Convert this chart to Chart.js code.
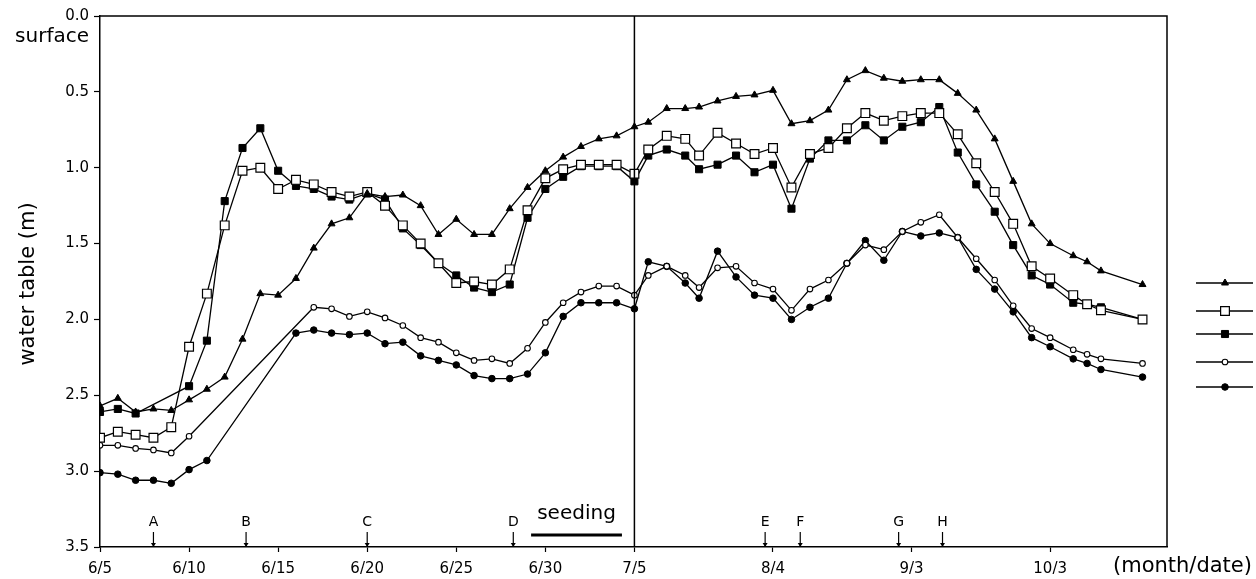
<!DOCTYPE html>
<html><head><meta charset="utf-8">
<script src="https://cdn.jsdelivr.net/npm/chart.js@4/dist/chart.umd.min.js"></script>
<style>html,body{margin:0;padding:0;background:#fff;}#wrap{width:1256px;height:579px;}</style>
</head><body><div id="wrap"><canvas id="c" width="1256" height="579"></canvas></div>
<script>
// days counted from 6/5 (day 0); 7/5 = day 30
const days = [0,1,2,3,4,5,6,7,8,9,10,11,12,13,14,15,16,17,18,19,20,21,22,23,24,25,26,27,28,29,30,
  33,37,41,44,48,52,56,60,64,68,72,76,80,84,88,92,96,100,104,108,112,116,120,125,128,131,140];

const triangleSeries = [2.57,2.52,2.61,2.59,2.60,2.53,2.46,2.38,2.13,1.83,1.84,1.73,1.53,1.37,1.33,1.17,1.19,1.18,1.25,1.44,1.34,1.44,1.44,1.27,1.13,1.02,0.93,0.86,0.81,0.79,0.73,
  0.70,0.61,0.61,0.60,0.56,0.53,0.52,0.49,0.71,0.69,0.62,0.42,0.36,0.41,0.43,0.42,0.42,0.51,0.62,0.81,1.09,1.37,1.50,1.58,1.62,1.68,1.77];
const openSquareSeries = [2.78,2.74,2.76,2.78,2.71,2.18,1.83,1.38,1.02,1.00,1.14,1.08,1.11,1.16,1.19,1.16,1.25,1.38,1.50,1.63,1.76,1.75,1.77,1.67,1.28,1.07,1.01,0.98,0.98,0.98,1.04,
  0.88,0.79,0.81,0.92,0.77,0.84,0.91,0.87,1.13,0.91,0.87,0.74,0.64,0.69,0.66,0.64,0.64,0.78,0.97,1.16,1.37,1.65,1.73,1.84,1.90,1.94,2.00];
const filledSquareSeries = [2.61,2.59,2.62,null,null,2.44,2.14,1.22,0.87,0.74,1.02,1.12,1.14,1.19,1.21,1.17,1.21,1.40,1.51,1.63,1.71,1.79,1.82,1.77,1.33,1.14,1.06,0.99,0.99,0.99,1.09,
  0.92,0.88,0.92,1.01,0.98,0.92,1.03,0.98,1.27,0.94,0.82,0.82,0.72,0.82,0.73,0.70,0.60,0.90,1.11,1.29,1.51,1.71,1.77,1.89,1.90,1.92,2.00];
const openCircleSeries = [2.83,2.83,2.85,2.86,2.88,2.77,null,null,null,null,null,null,1.92,1.93,1.98,1.95,1.99,2.04,2.12,2.15,2.22,2.27,2.26,2.29,2.19,2.02,1.89,1.82,1.78,1.78,1.84,
  1.71,1.65,1.71,1.79,1.66,1.65,1.76,1.80,1.94,1.80,1.74,1.63,1.51,1.54,1.42,1.36,1.31,1.46,1.60,1.74,1.91,2.06,2.12,2.20,2.23,2.26,2.29];
const filledCircleSeries = [3.01,3.02,3.06,3.06,3.08,2.99,2.93,null,null,null,null,2.09,2.07,2.09,2.10,2.09,2.16,2.15,2.24,2.27,2.30,2.37,2.39,2.39,2.36,2.22,1.98,1.89,1.89,1.89,1.93,
  1.62,1.65,1.76,1.86,1.55,1.72,1.84,1.86,2.00,1.92,1.86,1.63,1.48,1.61,1.42,1.45,1.43,1.46,1.67,1.80,1.95,2.12,2.18,2.26,2.29,2.33,2.38];

const tickDays = [0,5,10,15,20,25,30,60,90,120];
const tickLabels = ['6/5','6/10','6/15','6/20','6/25','6/30','7/5','8/4','9/3','10/3'];
const yTicks = [0,0.5,1.0,1.5,2.0,2.5,3.0,3.5];

const eventLabels = ['A','B','C','D','E','F','G','H'];
const eventDays = [3.0,8.2,15.0,23.2,58.3,65.9,87.2,96.7];
const seedingDays = [24.2,29.3];
const axisEndDay = 145.3;

// after 7/5 the time axis is compressed
const K = 0.2593;
function xUnit(d){ return d <= 30 ? d : 30 + (d - 30) * K; }

const FONT = "'DejaVu Sans', sans-serif";
const styles = [
  {style:'triangle', r:4, fill:'#000', bw:1},
  {style:'rect', r:6.2, fill:'#fff', bw:1.2},
  {style:'rect', r:5, fill:'#000', bw:1},
  {style:'circle', r:2.8, fill:'#fff', bw:1.1},
  {style:'circle', r:3.3, fill:'#000', bw:1}
];
const seriesList = [triangleSeries, openSquareSeries, filledSquareSeries, openCircleSeries, filledCircleSeries];

const datasets = seriesList.map((s, i) => ({
  data: days.map((d, j) => ({x: xUnit(d), y: s[j]})),
  borderColor:'#000', borderWidth:1.3, tension:0, spanGaps:true, fill:false,
  pointStyle: styles[i].style, pointRadius: styles[i].r, pointHoverRadius: styles[i].r,
  pointBackgroundColor: styles[i].fill, pointBorderColor:'#000', pointBorderWidth: styles[i].bw
}));

function drawMarker(ctx, st, x, y){
  ctx.save();
  ctx.fillStyle = st.fill; ctx.strokeStyle = '#000'; ctx.lineWidth = st.bw;
  ctx.beginPath();
  if (st.style === 'circle') ctx.arc(x, y, st.r, 0, Math.PI*2);
  else if (st.style === 'rect') { const h = st.r*Math.SQRT1_2; ctx.rect(x-h, y-h, 2*h, 2*h); }
  else { const r = st.r; ctx.moveTo(x, y-r); ctx.lineTo(x + r*0.866, y + r*0.5); ctx.lineTo(x - r*0.866, y + r*0.5); ctx.closePath(); }
  ctx.fill(); ctx.stroke(); ctx.restore();
}

const legendYs = [283, 311, 334, 362, 387];

const overlay = {
  id:'overlay',
  afterDraw(chart){
    const ctx = chart.ctx, a = chart.chartArea, xs = chart.scales.x;
    ctx.save();
    ctx.strokeStyle = '#000'; ctx.lineWidth = 1.5;
    ctx.beginPath();
    ctx.moveTo(a.left, a.top); ctx.lineTo(a.right, a.top); ctx.lineTo(a.right, a.bottom);
    const xv = xs.getPixelForValue(xUnit(30));
    ctx.moveTo(xv, a.top); ctx.lineTo(xv, a.bottom);
    ctx.stroke();

    // events
    ctx.fillStyle = '#000';
    ctx.font = '14px ' + FONT; ctx.textAlign = 'center'; ctx.textBaseline = 'middle';
    eventDays.forEach((d, i) => {
      const x = xs.getPixelForValue(xUnit(d));
      ctx.fillText(eventLabels[i], x, a.bottom - 25);
      ctx.lineWidth = 1.2;
      ctx.beginPath(); ctx.moveTo(x, a.bottom - 15); ctx.lineTo(x, a.bottom); ctx.stroke();
      ctx.beginPath(); ctx.moveTo(x - 2.5, a.bottom - 4); ctx.lineTo(x + 2.5, a.bottom - 4); ctx.lineTo(x, a.bottom); ctx.closePath(); ctx.fill();
    });

    // seeding
    const s0 = xs.getPixelForValue(xUnit(seedingDays[0])), s1 = xs.getPixelForValue(xUnit(seedingDays[1]));
    ctx.font = '20px ' + FONT;
    ctx.fillText('seeding', (s0 + s1)/2, a.bottom - 33);
    ctx.lineWidth = 3;
    ctx.beginPath(); ctx.moveTo(s0, a.bottom - 12); ctx.lineTo(s1, a.bottom - 12); ctx.stroke();

    // legend
    ctx.lineWidth = 1.3;
    legendYs.forEach((y, i) => {
      ctx.beginPath(); ctx.moveTo(1196, y); ctx.lineTo(1253, y); ctx.stroke();
      drawMarker(ctx, styles[i], 1225, y);
    });

    // texts
    ctx.fillStyle = '#000';
    ctx.font = '20px ' + FONT; ctx.textAlign = 'right'; ctx.textBaseline = 'middle';
    ctx.fillText('surface', 89, 37);
    ctx.font = '21px ' + FONT; ctx.textAlign = 'left';
    ctx.fillText('(month/date)', 1113, 567);
    ctx.save();
    ctx.translate(29, 284); ctx.rotate(-Math.PI/2);
    ctx.textAlign = 'center';
    ctx.fillText('water table (m)', 0, 0);
    ctx.restore();
    ctx.restore();
  }
};

new Chart(document.getElementById('c'), {
  type:'line',
  data:{datasets},
  options:{
    responsive:false, animation:false, devicePixelRatio:1,
    layout:{padding:{left:0, right:89, top:16, bottom:0}},
    plugins:{legend:{display:false}, tooltip:{enabled:false}},
    scales:{
      x:{type:'linear', min:0, max:xUnit(axisEndDay),
        afterBuildTicks(s){ s.ticks = tickDays.map(d => ({value:xUnit(d)})); },
        afterFit(s){ s.height = 32; },
        ticks:{autoSkip:false, maxRotation:0, color:'#000', padding:8, font:{family:FONT, size:15},
          callback:(v, i) => tickLabels[i]},
        grid:{drawOnChartArea:false, drawTicks:true, tickLength:5, color:'#000', tickWidth:1.2},
        border:{color:'#000', width:1.5}
      },
      y:{reverse:true, min:0, max:3.5,
        afterBuildTicks(s){ s.ticks = yTicks.map(v => ({value:v})); },
        afterFit(s){ s.width = 100; },
        ticks:{color:'#000', padding:5, font:{family:FONT, size:15}, callback:v => Number(v).toFixed(1)},
        grid:{drawOnChartArea:false, drawTicks:true, tickLength:6, color:'#000', tickWidth:1.2},
        border:{color:'#000', width:1.5}
      }
    }
  },
  plugins:[overlay]
});
</script>
</body></html>
